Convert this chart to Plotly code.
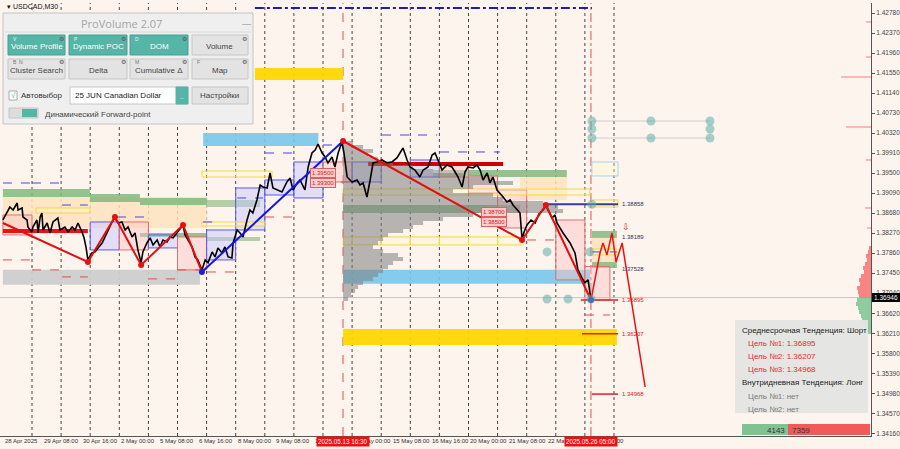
import plotly.graph_objects as go

BG = '#FDF4EE'
FONT = 'Liberation Sans, Arial, sans-serif'

# ---------------- DATA ----------------
# time axis: trading days since 28 Apr 2025 00:00 (M30 chart), price: USDCAD
segA_day = [0.00, 0.14, 0.24, 0.35, 0.49, 0.52, 0.66, 0.69, 0.83, 0.86, 1.00, 1.03, 1.17, 1.21, 1.28, 1.34,
            1.38, 1.52, 1.62, 1.72, 1.89, 1.96, 2.13, 2.24, 2.38, 2.48, 2.58, 2.72, 2.79, 2.86, 2.92, 3.06,
            3.17, 3.27, 3.41, 3.51, 3.61, 3.75, 3.85, 3.96, 4.09, 4.20, 4.30, 4.44, 4.54, 4.64, 4.75, 4.81,
            4.95, 5.06, 5.16, 5.30, 5.40, 5.50, 5.64, 5.74, 5.85, 5.98, 6.09, 6.19, 6.26, 6.36, 6.50, 6.60,
            6.70, 6.84]
segA_close = [1.38537, 1.38701, 1.38803, 1.38742, 1.38885, 1.38742, 1.38783, 1.38598, 1.38537, 1.38393,
              1.38291, 1.38393, 1.38537, 1.38271, 1.38598, 1.38680, 1.38332, 1.38475, 1.38271, 1.38496,
              1.38577, 1.38332, 1.38393, 1.38291, 1.38393, 1.38332, 1.38475, 1.38291, 1.38169, 1.37964,
              1.37718, 1.37862, 1.37882, 1.37964, 1.38066, 1.38189, 1.38332, 1.38496, 1.38577, 1.38475,
              1.38496, 1.38332, 1.38393, 1.38189, 1.38271, 1.37923, 1.37657, 1.37882, 1.38066, 1.38169,
              1.38025, 1.38127, 1.37984, 1.38127, 1.38087, 1.38189, 1.38169, 1.38271, 1.38332, 1.38434,
              1.38230, 1.38127, 1.37984, 1.37780, 1.37718, 1.37513]
segB_day = [6.95, 7.05, 7.19, 7.29, 7.39, 7.53, 7.63, 7.74, 7.87, 7.91, 8.05, 8.15, 8.25, 8.39, 8.49, 8.59,
            8.73, 8.84, 8.94, 9.08, 9.18, 9.28, 9.42, 9.59, 9.76, 9.87, 9.97, 10.11, 10.21, 10.38, 10.49,
            10.62, 10.73, 10.83, 10.97, 11.07, 11.17, 11.31, 11.41, 11.52, 11.65, 11.72, 11.83]
segB_close = [1.37718, 1.37657, 1.37882, 1.37780, 1.37964, 1.37862, 1.37984, 1.37780, 1.37759, 1.38066,
              1.38332, 1.38271, 1.38189, 1.38537, 1.38742, 1.38680, 1.38947, 1.39254, 1.39213, 1.39193,
              1.39500, 1.39193, 1.39152, 1.39111, 1.39316, 1.39398, 1.39152, 1.39295, 1.39357, 1.39152,
              1.39623, 1.39910, 1.39972, 1.40094, 1.39910, 1.39828, 1.39705, 1.39828, 1.39623, 1.39910,
              1.40135, 1.39910, 1.39418]
segC_day = [12.00, 12.17, 12.27, 12.38, 12.51, 12.62, 12.72, 12.86, 13.03, 13.20, 13.37, 13.54, 13.65, 13.75,
            13.89, 13.99, 14.16, 14.33, 14.44, 14.61, 14.75, 14.85, 14.95, 15.09, 15.26, 15.43, 15.54, 15.64,
            15.78, 15.88, 15.98, 16.16, 16.29, 16.40, 16.50, 16.64, 16.74, 16.84, 16.98, 17.08, 17.19, 17.32,
            17.43, 17.53, 17.67, 17.77, 17.84, 17.91, 18.01, 18.15, 18.29, 18.42, 18.56, 18.66, 18.77, 18.87,
            18.97, 19.04, 19.25, 19.49, 19.66, 19.76, 19.90, 20.00, 20.11, 20.21, 20.24]
segC_close = [1.39316, 1.39357, 1.39254, 1.39295, 1.39008, 1.39357, 1.39705, 1.39726, 1.39767, 1.39705,
              1.39726, 1.39808, 1.39910, 1.40013, 1.39767, 1.39623, 1.39562, 1.39418, 1.39562, 1.39623,
              1.39869, 1.39910, 1.39767, 1.39562, 1.39664, 1.39623, 1.39521, 1.39418, 1.39213, 1.39521,
              1.39623, 1.39603, 1.39664, 1.39562, 1.39357, 1.39500, 1.39295, 1.39418, 1.39152, 1.39090,
              1.39008, 1.38906, 1.38947, 1.38844, 1.38742, 1.38680, 1.38148, 1.38291, 1.38434, 1.38537,
              1.38475, 1.38660, 1.38742, 1.38824, 1.38701, 1.38577, 1.38639, 1.38475, 1.38271, 1.38066,
              1.37862, 1.37513, 1.37350, 1.37248, 1.37309, 1.36897, 1.36960]

current_price = 1.36946

# zigzag legs
zz_down_day = [0.00, 2.92, 3.85, 4.75, 6.19, 6.84]
zz_down_price = [1.38475, 1.37676, 1.38598, 1.37614, 1.38434, 1.37471]
zz_up_day = [6.84, 11.69]
zz_up_price = [1.37471, 1.40156]
zz_late_day = [11.69, 17.84, 18.66, 20.21]
zz_late_price = [1.40156, 1.38127, 1.38844, 1.36897]
forecast_day = [20.21, 20.52, 20.62, 20.76, 20.93, 21.07, 21.28, 22.07]
forecast_price = [1.36897, 1.37862, 1.38066, 1.37820, 1.38271, 1.37676, 1.38066, 1.35113]
pivot_hi_day = [2.92, 3.85, 4.75, 6.19, 11.69, 17.84, 18.66]
pivot_hi_price = [1.37676, 1.38598, 1.37614, 1.38434, 1.40156, 1.38127, 1.38844]
pivot_lo_day = [6.84, 20.21]
pivot_lo_price = [1.37471, 1.36897]

# filled zones
zone_kind = ['peach', 'green', 'green', 'green', 'green2', 'green', 'green2', 'grey', 'sky', 'gold',
             'sky', 'gold', 'green', 'green', 'peach', 'peach', 'green', 'green']
zone_d0 = [0.00, 0.00, 2.99, 4.71, 7.01, 4.71, 7.01, 0.00, 6.88, 8.66, 11.69, 11.69, 11.69, 14.78, 17.77,
           20.24, 20.24, 20.24]
zone_d1 = [7.01, 2.99, 4.71, 7.01, 8.84, 7.01, 8.84, 6.77, 10.84, 11.69, 20.18, 21.10, 17.77, 19.38, 19.38,
           21.10, 21.10, 21.10]
zone_hi = [1.39008, 1.39172, 1.39069, 1.38988, 1.38947, 1.38271, 1.38189, 1.37519, 1.40320, 1.41653, 1.37519,
           1.36302, 1.38844, 1.39562, 1.39418, 1.38169, 1.38312, 1.37676]
zone_lo = [1.38373, 1.39008, 1.38906, 1.38844, 1.38803, 1.38189, 1.38107, 1.37211, 1.40053, 1.41407, 1.37232,
           1.35974, 1.38680, 1.39418, 1.38947, 1.37676, 1.38169, 1.37553]

# outlined boxes
obox_kind = ['yellow'] * 13 + ['lightblue']
obox_d0 = [11.69, 12, 13, 14, 15, 16, 17, 11.69, 6.84, 6.84, 1.14, 20.24, 20.24, 20.24]
obox_d1 = [12, 13, 14, 15, 16, 17, 17.84, 20.17, 9.25, 9.01, 2.99, 21.14, 21.10, 21.14]
obox_hi = [1.38189] * 7 + [1.39172, 1.39541, 1.38496, 1.38783, 1.38947, 1.37943, 1.39726]
obox_lo = [1.38025] * 7 + [1.39049, 1.39418, 1.38414, 1.38680, 1.38803, 1.37820, 1.39439]

# daily open/close boxes
day_d0 = [0, 3, 4, 5, 6, 7, 8, 9, 10, 11, 12, 14, 15, 16, 17, 19, 20]
day_d1 = [1, 4, 5, 6, 7, 8, 9, 10, 11, 12, 13, 15, 16, 17, 18, 20, 20.86]
day_open = [1.38639, 1.37923, 1.38496, 1.37964, 1.38189, 1.37718, 1.38332, 1.39049, 1.38988, 1.39726,
            1.39316, 1.39418, 1.39705, 1.39439, 1.39152, 1.38537, 1.37582]
day_close = [1.38230, 1.38496, 1.37923, 1.38230, 1.37513, 1.38332, 1.39193, 1.39357, 1.39726, 1.39316,
             1.39726, 1.39767, 1.39418, 1.39090, 1.38373, 1.37309, 1.36897]

# day highs (blue dashed) / lows (red dashed)
dhi_d0 = [0.00, 1.00, 2.03, 3.92, 6.88, 8.05, 9.01, 11.00, 13.03, 15.02, 20.24]
dhi_d1 = [0.93, 2.03, 2.92, 4.95, 7.46, 8.94, 9.97, 11.69, 14.92, 17.08, 21.10]
dhi_price = [1.39295, 1.39295, 1.38844, 1.38598, 1.38496, 1.38988, 1.39910, 1.40074, 1.40279, 1.39931, 1.37882]
dlo_d0 = [0.00, 1.00, 2.03, 4.99, 5.98, 7.01, 9.01, 11.00, 18.01, 20.00]
dlo_d1 = [1.00, 1.96, 2.92, 5.98, 6.77, 8.05, 9.97, 11.93, 19.04, 20.86]
dlo_price = [1.37718, 1.37513, 1.37370, 1.37329, 1.37513, 1.37471, 1.38598, 1.39316, 1.38127, 1.36589]

# volume profile from 13 May 16:30
vp_start = 11.69
vp_price = [1.40115, 1.40033, 1.39951, 1.39869, 1.39787, 1.39705, 1.39623, 1.39541, 1.39459, 1.39377,
            1.39295, 1.39213, 1.39131, 1.39049, 1.38967, 1.38885, 1.38803, 1.38721, 1.38639, 1.38557,
            1.38475, 1.38393, 1.38311, 1.38229, 1.38147, 1.38065, 1.37983, 1.37901, 1.37819, 1.37737,
            1.37655, 1.37573, 1.37491, 1.37409, 1.37327, 1.37245, 1.37163, 1.37081, 1.36999, 1.36917]
vp_volume = [10, 20, 30, 25, 35, 50, 70, 90, 120, 150, 170, 130, 110, 150, 160, 200, 215, 220, 130, 100,
             80, 70, 60, 45, 40, 35, 30, 40, 55, 60, 50, 45, 40, 35, 30, 20, 15, 12, 8, 5]

# right-edge profile
rp_price = [1.37964, 1.37882, 1.37800, 1.37718, 1.37636, 1.37554, 1.37471, 1.37389, 1.37307, 1.37225,
            1.37143, 1.37061, 1.36979, 1.36897, 1.36815, 1.36733, 1.36651, 1.36569, 1.36487, 1.36405,
            1.36323, 1.36241]
rp_volume = [2, 3, 5, 4, 6, 8, 7, 10, 12, 11, 14, 13, 12, 14, 15, 13, 12, 10, 9, 7, 5, 3]
rp_line_price = [1.42596, 1.41878, 1.41468, 1.40443, 1.39767, 1.38783, 1.38373]
rp_line_volume = [5, 5, 30, 25, 5, 6, 4]

# forward targets
tgt_price = [1.38858, 1.38189, 1.37528, 1.36895, 1.36207, 1.34968]
tgt_text = ['1.38858', '1.38189', '1.37528', '1.36895', '1.36207', '1.34968']
tgt_line_d0 = [18.56, None, None, 19.86, 19.90, 20.24]

# round level tags
rl_day = [11.00, 11.00, 16.86, 16.86]
rl_price = [1.39500, 1.39300, 1.38700, 1.38500]
rl_text = ['1.39500', '1.39300', '1.38700', '1.38500']

# teal nodes
node_day = [20.24, 22.27, 24.30, 20.24, 24.30, 20.24, 22.27, 24.30, 18.70, 20.17, 18.70, 19.42, 20.21, 20.24]
node_price = [1.40566, 1.40566, 1.40566, 1.40402, 1.40402, 1.40217, 1.40217, 1.40217, 1.37882, 1.37882,
              1.36917, 1.36917, 1.36917, 1.38858]

top_level_price = 1.42883
top_level_d = [8.66, 20.24]
poc_price = 1.39685
poc_d = [12.55, 17.19]
left_level_price = 1.38312
left_level_d = [0.00, 2.92]

sep_days = list(range(1, 22))
event_days = [11.6875, 20.2083]
event_text = ['2025.05.13 16:30', '2025.05.26 05:00']

x_tick_days = [0, 1.333, 2.667, 4, 5.333, 6.667, 8, 9.333, 10.667, 12, 13.333, 14.667, 16, 17.333, 18.667, 20]
x_tick_text = ['28 Apr 2025', '29 Apr 08:00', '30 Apr 16:00', '2 May 00:00', '5 May 08:00', '6 May 16:00',
               '8 May 00:00', '9 May 08:00', '12 May 16:00', '14 May 00:00', '15 May 08:00', '16 May 16:00',
               '20 May 00:00', '21 May 08:00', '22 May 16:00', '26 May 00:00']
y_tick_vals = [1.42780, 1.42370, 1.41960, 1.41550, 1.41140, 1.40730, 1.40320, 1.39910, 1.39500, 1.39090,
               1.38680, 1.38270, 1.37860, 1.37450, 1.37040, 1.36620, 1.36210, 1.35800, 1.35390, 1.34980,
               1.34570, 1.34160]

info_lines = ['Среднесрочная Тенденция: Шорт', 'Цель №1: 1.36895', 'Цель №2: 1.36207', 'Цель №3: 1.34968',
              'Внутридневная Тенденция: Лонг', 'Цель №1: нет', 'Цель №2: нет']
info_kind = ['head', 'red', 'red', 'red', 'head', 'grey', 'grey']
bid_volume, ask_volume = 4143, 7359

# ---------------- LAYOUT CONSTANTS ----------------
X_RANGE = [-0.0997, 29.832]
Y_RANGE = [1.341085, 1.42985]
PLOT_W, PLOT_H, TOP = 871, 433, 3
DAY_PX = 29.1


def PX(x):
    return x / PLOT_W


def PY(y):
    return 1 - (y - TOP) / PLOT_H


zone_style = {'peach': 'rgba(253,226,190,0.85)', 'green': 'rgba(130,185,125,0.85)',
              'green2': 'rgba(150,190,140,0.7)', 'grey': 'rgba(205,205,205,0.95)',
              'sky': 'rgba(120,200,235,0.9)', 'gold': 'rgba(255,214,0,0.95)'}
obox_style = {'yellow': '#F2D84A', 'lightblue': '#A8D4E8'}

shapes = []
annotations = []


def add_rect(x0, x1, y0, y1, fill, line_color='rgba(0,0,0,0)', lw=0, layer='below', ref='data'):
    xr, yr = ('x', 'y') if ref == 'data' else ('paper', 'paper')
    shapes.append(dict(type='rect', xref=xr, yref=yr, x0=x0, x1=x1, y0=y0, y1=y1,
                       fillcolor=fill, line=dict(color=line_color, width=lw), layer=layer))


def add_hline(x0, x1, y, color, width=1, dash='solid', layer='below'):
    shapes.append(dict(type='line', xref='x', yref='y', x0=x0, x1=x1, y0=y, y1=y,
                       line=dict(color=color, width=width, dash=dash), layer=layer))


def add_vline(x, color, width=1, dash='dot'):
    shapes.append(dict(type='line', xref='x', yref='paper', x0=x, x1=x, y0=0, y1=1,
                       line=dict(color=color, width=width, dash=dash), layer='below'))


def add_text(x, y, text, size=8, color='#222', xanchor='left', ref='paper', bg=None, border=None,
             family=FONT, yanchor='middle'):
    d = dict(x=x, y=y, text=text, showarrow=False, xanchor=xanchor, yanchor=yanchor,
             font=dict(size=size, color=color, family=family))
    if ref == 'paper':
        d.update(xref='paper', yref='paper')
    elif ref == 'xpaper':
        d.update(xref='x', yref='paper')
    else:
        d.update(xref='x', yref='y')
    if bg:
        d.update(bgcolor=bg, borderpad=1)
    if border:
        d.update(bordercolor=border, borderwidth=1)
    annotations.append(d)


# zones
for k, a, b, hi, lo in zip(zone_kind, zone_d0, zone_d1, zone_hi, zone_lo):
    add_rect(a, b, lo, hi, zone_style[k])
# daily boxes
for a, b, o, c in zip(day_d0, day_d1, day_open, day_close):
    if c >= o:
        add_rect(a, b, o, c, 'rgba(195,195,255,0.45)', '#5A5AF0', 1)
    else:
        add_rect(a, b, c, o, 'rgba(255,195,195,0.45)', '#E07070', 1)
# outlined boxes
for k, a, b, hi, lo in zip(obox_kind, obox_d0, obox_d1, obox_hi, obox_lo):
    add_rect(a, b, lo, hi, 'rgba(255,250,200,0.35)', obox_style[k], 1)
# dashed daily levels
for a, b, p in zip(dhi_d0, dhi_d1, dhi_price):
    add_hline(a, b, p, '#4646E0', 1, 'dash')
for a, b, p in zip(dlo_d0, dlo_d1, dlo_price):
    add_hline(a, b, p, '#E05050', 1, 'dash')
# day separators
for d in sep_days:
    add_vline(d, '#444444', 1, 'dot')
add_vline(event_days[0], '#E05050', 1, 'dash')
add_vline(event_days[1], '#E05050', 1, 'dashdot')
# bid line
add_hline(X_RANGE[0], X_RANGE[1], current_price, '#C4C4C4', 1)
# special levels
add_hline(top_level_d[0], top_level_d[1], top_level_price, '#2020A0', 2, 'dashdot')
add_hline(poc_d[0], poc_d[1], poc_price, '#CC0000', 4)
add_hline(left_level_d[0], left_level_d[1], left_level_price, '#EE1111', 4)
# targets
for p, d0 in zip(tgt_price, tgt_line_d0):
    if d0 is not None:
        add_hline(d0, 21.14, p, '#3A3A9A' if p > current_price else '#E02020', 2 if p > current_price else 1.5)
# node connector lines
add_hline(20.24, 24.30, node_price[0], 'rgba(190,190,190,0.7)', 1)
add_hline(20.24, 24.30, node_price[5], 'rgba(190,190,190,0.7)', 1)

# ---------------- TRACES ----------------
fig = go.Figure()
vp_scale = 1 / DAY_PX
fig.add_trace(go.Bar(y=vp_price, x=[v * vp_scale for v in vp_volume], base=vp_start, orientation='h',
                     width=0.00082, marker=dict(color='rgba(125,125,125,0.55)', line=dict(width=0))))
rp_colors = ['rgba(248,120,120,0.9)' if p > current_price else 'rgba(130,200,150,0.9)' for p in rp_price]
fig.add_trace(go.Bar(y=rp_price, x=[-v * vp_scale for v in rp_volume], base=X_RANGE[1], orientation='h',
                     width=0.00082, marker=dict(color=rp_colors, line=dict(width=0))))
fig.add_trace(go.Bar(y=rp_line_price, x=[-v * vp_scale for v in rp_line_volume], base=X_RANGE[1],
                     orientation='h', width=0.00022, marker=dict(color='rgba(248,120,120,0.9)', line=dict(width=0))))

fig.add_trace(go.Scatter(x=segA_day + segB_day + segC_day, y=segA_close + segB_close + segC_close,
                         mode='lines', line=dict(color='black', width=1.6)))
fig.add_trace(go.Scatter(x=zz_down_day, y=zz_down_price, mode='lines', line=dict(color='#E01010', width=2)))
fig.add_trace(go.Scatter(x=zz_up_day, y=zz_up_price, mode='lines', line=dict(color='#1515E0', width=2)))
fig.add_trace(go.Scatter(x=zz_late_day, y=zz_late_price, mode='lines', line=dict(color='#E01010', width=2)))
fig.add_trace(go.Scatter(x=forecast_day, y=forecast_price, mode='lines', line=dict(color='#E81010', width=1.5)))
fig.add_trace(go.Scatter(x=pivot_hi_day, y=pivot_hi_price, mode='markers',
                         marker=dict(color='#E81010', size=6)))
fig.add_trace(go.Scatter(x=pivot_lo_day, y=pivot_lo_price, mode='markers',
                         marker=dict(color='#2020D0', size=6)))
fig.add_trace(go.Scatter(x=node_day, y=node_price, mode='markers',
                         marker=dict(color='rgba(95,175,170,0.55)', size=9)))

# ---------------- TEXT ON CHART ----------------
for d, p, t in zip(rl_day, rl_price, rl_text):
    add_text(d, p, t, 6, '#D02020', 'center', 'data', 'rgba(255,205,205,0.9)', '#E06060')
for p, t in zip(tgt_price, tgt_text):
    add_text(21.21, p, t, 6, '#E02020' if p < current_price else '#333355', 'left', 'data')
add_text(21.21, 1.38393, '⇩', 9, '#E02020', 'left', 'data')

# x tick labels (the red time tags cover parts of two of them, as in MT4)
for d, t in zip(x_tick_days, x_tick_text):
    add_text(d, PY(441), t, 6, '#333', 'left', 'xpaper')
for d, t in zip(event_days, event_text):
    add_text(d, PY(441), t, 6.3, 'white', 'center', 'xpaper', '#F01010')

# current price tag
add_rect(PX(872), PX(900), PY(302), PY(293), 'black', ref='paper', layer='above')
add_text(PX(886), PY(297.5), f'{current_price:.5f}', 6.5, 'white', 'center')

# symbol title
add_text(PX(5), PY(6), '▾ USDCAD,M30', 7, '#111')

# info box
add_rect(PX(735), PX(868), PY(413), PY(320), 'rgba(228,228,226,0.96)', ref='paper', layer='above')
info_color = {'head': '#1A1A1A', 'red': '#E0302A', 'grey': '#7A7A7A'}
for i, (t, k) in enumerate(zip(info_lines, info_kind)):
    x = 740 if k == 'head' else 746
    add_text(PX(x), PY(330 + i * 13.2), t, 8, info_color[k])
# bid / ask volume bar
add_rect(PX(742), PX(788), PY(435), PY(424), '#80C292', ref='paper', layer='above')
add_rect(PX(788), PX(870), PY(435), PY(424), '#F25A5A', ref='paper', layer='above')
add_text(PX(787), PY(430), str(bid_volume), 8, '#333', 'right')
add_text(PX(790), PY(430), str(ask_volume), 8, '#333', 'left')

# ---------------- ProVolume panel ----------------
TEAL = '#55B5A7'
add_rect(PX(3), PX(253), PY(124), PY(13), '#EFEFEF', '#C4C4C4', 1, 'above', 'paper')
shapes.append(dict(type='line', xref='paper', yref='paper', x0=PX(5), x1=PX(251), y0=PY(32), y1=PY(32),
                   line=dict(color='#DADADA', width=1), layer='above'))
add_text(PX(121), PY(23), 'ProVolume 2.07', 11, '#A6A6A6', 'center', family='Open Sans, sans-serif')
add_text(PX(246), PY(24), '—', 9, '#888', 'center')
btn_x = [(8, 65), (69, 127), (130, 188), (192, 248)]
row1 = ['Volume Profile', 'Dynamic POC', 'DOM', 'Volume']
row2 = ['Cluster Search', 'Delta', 'Cumulative Δ', 'Map']
keys1 = ['V', 'P', 'D', '']
keys2 = ['B  N', '', 'M', 'F']
for i, ((a, b), t) in enumerate(zip(btn_x, row1)):
    teal = i < 3
    add_rect(PX(a), PX(b), PY(55), PY(35), TEAL if teal else '#E3E3E3', '#4A9E92' if teal else '#C6C6C6', 1,
             'above', 'paper')
    add_text(PX((a + b) / 2), PY(46), t, 8, 'white' if teal else '#444', 'center')
    if keys1[i]:
        add_text(PX(a + 3), PY(38.5), keys1[i], 5, '#E8F5F3', 'left')
    add_text(PX(b - 4), PY(38.5), '⚙', 5.5, '#555', 'center')
for i, ((a, b), t) in enumerate(zip(btn_x, row2)):
    add_rect(PX(a), PX(b), PY(79), PY(59), '#E3E3E3', '#C6C6C6', 1, 'above', 'paper')
    add_text(PX((a + b) / 2), PY(70.5), t, 8, '#444', 'center')
    if keys2[i]:
        add_text(PX(a + 3), PY(62), keys2[i], 5, '#777', 'left')
    add_text(PX(b - 4), PY(62), '⚙', 5.5, '#555', 'center')
# checkbox, dropdown, settings
add_rect(PX(9), PX(17), PY(100), PY(91), 'white', '#AAAAAA', 1, 'above', 'paper')
add_text(PX(13), PY(95), '√', 8, TEAL, 'center')
add_text(PX(19), PY(96), 'Автовыбор', 8, '#333')
add_rect(PX(70), PX(188), PY(104), PY(87), 'white', '#C6C6C6', 1, 'above', 'paper')
add_rect(PX(176), PX(188), PY(104), PY(87), TEAL, TEAL, 1, 'above', 'paper')
add_text(PX(182), PY(95.5), '︿<br>﹀', 4, 'white', 'center')
add_text(PX(73), PY(96), '25 JUN Canadian Dollar', 8, '#222')
add_rect(PX(192), PX(248), PY(104), PY(87), '#E3E3E3', '#C6C6C6', 1, 'above', 'paper')
add_text(PX(220), PY(96), 'Настройки', 8, '#444', 'center')
add_rect(PX(9), PX(38), PY(118), PY(108), '#DDDDDD', '#C6C6C6', 1, 'above', 'paper')
add_rect(PX(22), PX(37), PY(117), PY(109), TEAL, TEAL, 0, 'above', 'paper')
add_text(PX(43), PY(114), 'Динамический Forward-point', 8, '#444')

fig.update_layout(
    width=900, height=449, margin=dict(l=0, r=29, t=3, b=13),
    paper_bgcolor=BG, plot_bgcolor=BG, showlegend=False, barmode='overlay', hovermode=False,
    font=dict(family=FONT),
    xaxis=dict(range=X_RANGE, showgrid=False, zeroline=False, showticklabels=False, showline=True,
               linecolor='#555', linewidth=1, ticks='', fixedrange=True),
    yaxis=dict(range=Y_RANGE, side='right', showgrid=False, zeroline=False, tickvals=y_tick_vals,
               ticktext=[f'{v:.5f}' for v in y_tick_vals], tickfont=dict(size=6.5, color='#444'),
               ticks='outside', ticklen=3, tickcolor='#555', showline=True, linecolor='#555', linewidth=1,
               fixedrange=True),
    shapes=shapes, annotations=annotations,
)

fig.write_html('out.html', config={'displayModeBar': False})

# remove the browser's default page margin so the 900x449 figure fills the window exactly
with open('out.html', encoding='utf-8') as f:
    html = f.read()
html = html.replace('<head>', '<head><style>html,body{margin:0;padding:0;overflow:hidden;background:'
                    + BG + ';}</style>', 1)
with open('out.html', 'w', encoding='utf-8') as f:
    f.write(html)
